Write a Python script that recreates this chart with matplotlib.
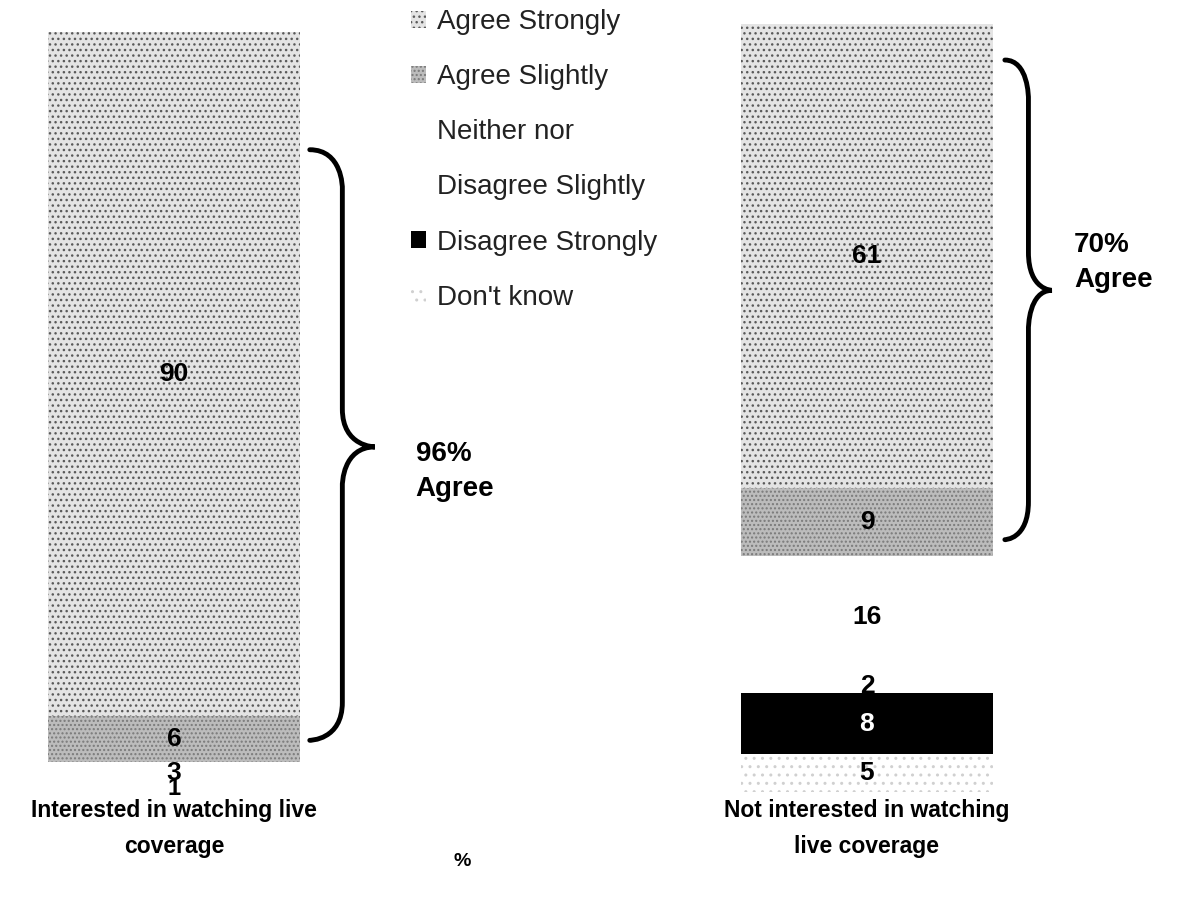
import matplotlib.pyplot as plt
from matplotlib.path import Path
from matplotlib.patches import PathPatch

plt.rcParams['font.family'] = ['Liberation Sans', 'DejaVu Sans']

groups = ["Interested in watching live\ncoverage", "Not interested in watching\nlive coverage"]
categories = ["Don't know", "Disagree Strongly", "Disagree Slightly",
              "Neither nor", "Agree Slightly", "Agree Strongly"]
dont_know = [0, 5]
disagree_strongly = [0, 8]
disagree_slightly = [1, 2]
neither_nor = [3, 16]
agree_slightly = [6, 9]
agree_strongly = [90, 61]
agree_totals = ["96%\nAgree", "70%\nAgree"]

series = [dont_know, disagree_strongly, disagree_slightly, neither_nor, agree_slightly, agree_strongly]
styles = [
    dict(facecolor="white", edgecolor="#d0d0d0", hatch="..", text="black"),
    dict(facecolor="black", edgecolor="black", hatch=None, text="white"),
    dict(facecolor="white", edgecolor="white", hatch=None, text="black"),
    dict(facecolor="white", edgecolor="white", hatch=None, text="black"),
    dict(facecolor="#bcbcbc", edgecolor="#7a7a7a", hatch="....", text="black"),
    dict(facecolor="#e4e4e4", edgecolor="#5a5a5a", hatch="...", text="black"),
]

fig = plt.figure(figsize=(11.8, 8.99), dpi=100)
ax = fig.add_axes([0, 107 / 899, 1, 792 / 899])
x = [0, 1]
width = 0.364
bottoms = [0, 0]
handles = []
for name, vals, st in zip(categories, series, styles):
    bars = ax.bar(x, vals, width, bottom=bottoms, facecolor=st["facecolor"],
                  edgecolor=st["edgecolor"], hatch=st["hatch"], linewidth=0, label=name)
    handles.append(bars)
    for xi, v, b in zip(x, vals, bottoms):
        if v > 0:
            ax.text(xi, b + v / 2, str(v), ha="center", va="center",
                    fontsize=19 if v > 1 else 17, fontweight="bold", color=st["text"])
    bottoms = [b + v for b, v in zip(bottoms, vals)]

ax.set_xlim(-0.251, 1.4517)
ax.set_ylim(0, 104.2)
ax.set_xticks(x)
ax.set_xticklabels(groups, fontsize=16.5, fontweight="bold", linespacing=1.75)
ax.tick_params(axis="x", length=0, pad=5)
ax.set_yticks([])
for s in ax.spines.values():
    s.set_visible(False)


def brace(ax, x0, w, y0, y1, ytip):
    r = 5.0
    xm = x0 + w * 0.5
    verts = [(x0, y1), (xm, y1), (xm, y1 - r), (xm, y1 - r),
             (xm, ytip + r),
             (xm, ytip), (x0 + w, ytip), (x0 + w, ytip),
             (xm, ytip), (xm, ytip - r), (xm, ytip - r),
             (xm, y0 + r),
             (xm, y0), (x0, y0), (x0, y0)]
    codes = [Path.MOVETO, Path.CURVE4, Path.CURVE4, Path.CURVE4,
             Path.LINETO,
             Path.CURVE4, Path.CURVE4, Path.CURVE4,
             Path.CURVE4, Path.CURVE4, Path.CURVE4,
             Path.LINETO,
             Path.CURVE4, Path.CURVE4, Path.CURVE4]
    ax.add_patch(PathPatch(Path(verts, codes), fill=False, lw=3.5,
                           edgecolor="black", capstyle="round"))


brace(ax, 0.196, 0.094, 6.8, 84.5, 45.4)
brace(ax, 1.199, 0.068, 33.2, 96.3, 66.0)
ax.text(0.349, 42.2, agree_totals[0], fontsize=20, fontweight="bold", va="center", ha="left",
        linespacing=1.45)
ax.text(1.299, 69.6, agree_totals[1], fontsize=20, fontweight="bold", va="center", ha="left",
        linespacing=1.45)

fig.legend(handles[::-1], categories[::-1], loc="upper left",
           bbox_to_anchor=(411 / 1180, 1 - 9 / 899), frameon=False, fontsize=20,
           borderpad=0.0, borderaxespad=0.0,
           handlelength=0.55, handleheight=0.55, handletextpad=0.4, labelspacing=1.05,
           labelcolor="#222222")

fig.text(462 / 1180, 1 - 862 / 899, "%", fontsize=14, fontweight="bold", ha="center", va="center")

fig.savefig("out.png", dpi=100)
